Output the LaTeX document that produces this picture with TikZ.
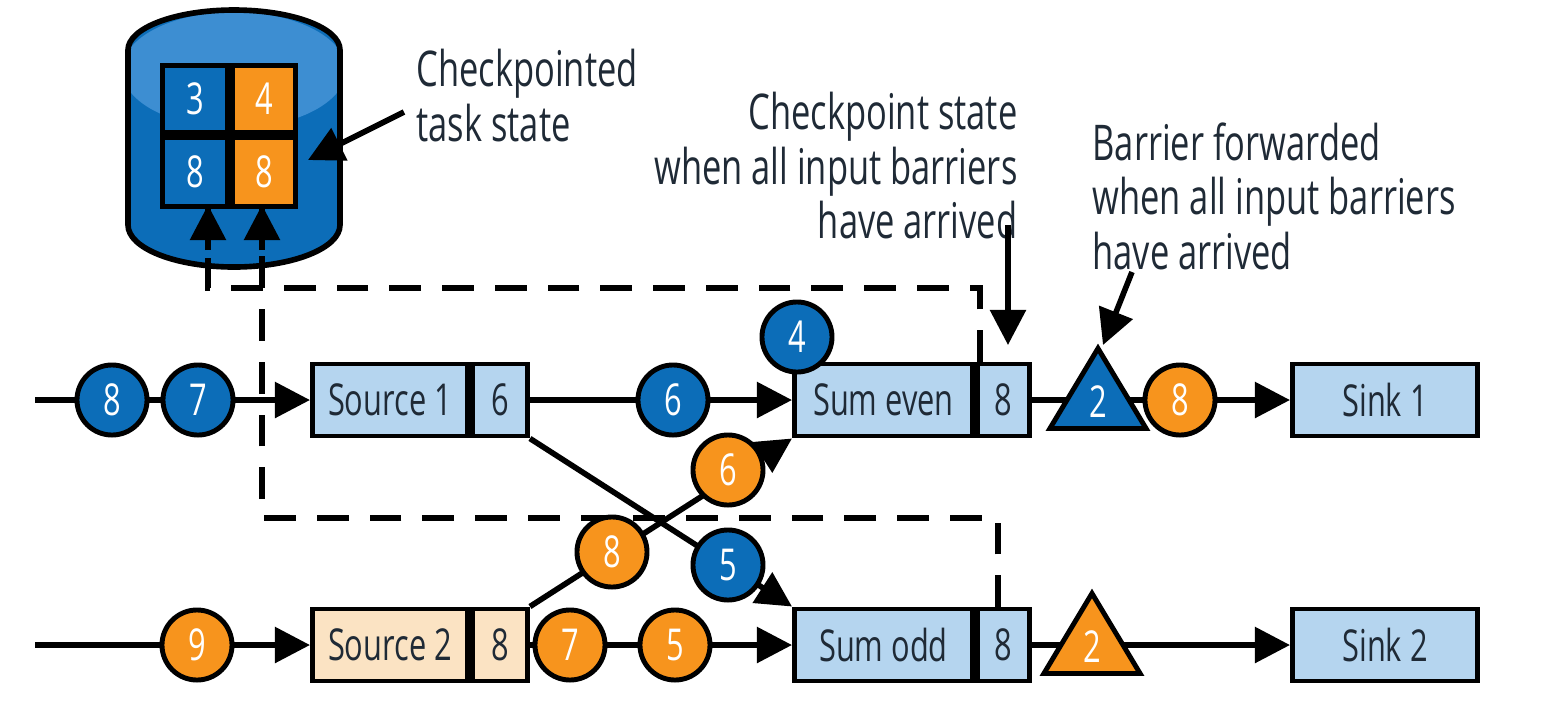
\documentclass[tikz,border=0pt]{standalone}
\usepackage{fontspec}
\setmainfont{Open Sans}[FakeStretch=0.7]
\usetikzlibrary{arrows.meta,shapes.geometric}
\definecolor{fblue}{HTML}{0C6DB8}
\definecolor{forange}{HTML}{F7941D}
\definecolor{lblue}{HTML}{B5D5EF}
\definecolor{peach}{HTML}{FBE3C3}
\definecolor{cyltop}{HTML}{3D8ED2}
\definecolor{txt}{HTML}{1F2A36}
\begin{document}
\begin{tikzpicture}[x=0.01cm,y=-0.01cm,line width=1.6pt,
  font=\fontsize{12.5}{15}\selectfont,
  arr/.style={-{Triangle[length=10pt,width=10pt]}},
  ball/.style={circle,draw=black,line width=1.4pt,minimum size=0.7cm,inner sep=0pt,text=white},
  bb/.style={ball,fill=fblue},
  ob/.style={ball,fill=forange},
  box/.style={draw=black,line width=1.4pt,fill=lblue,minimum height=0.72cm,inner sep=0pt,text=txt},
  cell/.style={draw=black,line width=1.4pt,inner sep=0pt,text=white},
  tri/.style={isosceles triangle,isosceles triangle apex angle=62,shape border rotate=90,draw=black,line width=1.4pt,minimum height=0.8cm,inner sep=1pt,text=white},
  lbl/.style={align=left,text=txt,font=\fontsize{14}{15.5}\selectfont},
  dsh/.style={dashed,dash pattern=on 9pt off 6pt}]
\useasboundingbox (0,0) rectangle (1550,714);
% cylinder
\path[fill=fblue] (128,50) -- (128,225) arc[start angle=180,end angle=0,x radius=106,y radius=42] -- (340,50) arc[start angle=0,end angle=-180,x radius=106,y radius=40] -- cycle;
\begin{scope}
\clip (128,50) -- (128,225) arc[start angle=180,end angle=0,x radius=106,y radius=42] -- (340,50) arc[start angle=0,end angle=-180,x radius=106,y radius=40] -- cycle;
\fill[cyltop] (234,70) ellipse[x radius=112,y radius=58];
\end{scope}
\draw[line width=1.6pt] (128,50) -- (128,225) arc[start angle=180,end angle=0,x radius=106,y radius=42] -- (340,50) arc[start angle=0,end angle=-180,x radius=106,y radius=40] -- cycle;
\node[cell,fill=fblue,minimum width=0.65cm,minimum height=0.67cm,anchor=south east] (c1) at (230,135) {3};
\node[cell,fill=forange,minimum width=0.63cm,minimum height=0.67cm,anchor=south west] (c2) at (230,135) {4};
\node[cell,fill=fblue,minimum width=0.65cm,minimum height=0.69cm,anchor=north east] (c3) at (230,135) {8};
\node[cell,fill=forange,minimum width=0.63cm,minimum height=0.69cm,anchor=north west] (c4) at (230,135) {8};
\coordinate (g1) at (208,205);
\coordinate (g2) at (262,205);
% boxes
\node[box,minimum width=1.55cm,fill=lblue,anchor=west] (s1) at (310,400) {Source 1};
\node[box,minimum width=0.55cm,anchor=west] (s1n) at (s1.east) {6};
\node[box,minimum width=1.55cm,fill=peach,anchor=west] (s2) at (310,645) {Source 2};
\node[box,minimum width=0.55cm,fill=peach,anchor=west] (s2n) at (s2.east) {8};
\node[box,minimum width=1.78cm,anchor=west] (se) at (792,400) {Sum even};
\node[box,minimum width=0.52cm,anchor=west] (sen) at (se.east) {8};
\node[box,minimum width=1.78cm,anchor=west] (so) at (792,645) {Sum odd};
\node[box,minimum width=0.52cm,anchor=west] (son) at (so.east) {8};
\node[box,minimum width=1.85cm,anchor=west] (k1) at (1290,400) {Sink 1};
\node[box,minimum width=1.85cm,anchor=west] (k2) at (1290,645) {Sink 2};
\coordinate (in1) at (35,400);
\coordinate (in2) at (35,645);
% dashed
\draw[dsh] (980,362) -- (980,288) -- (208,288) -- (g1);
\draw[dsh] (998,607) -- (998,518) -- (262,518) -- (g2);
\draw[arr] (208,250) -- (g1);
\draw[arr] (262,250) -- (g2);
% connectors
\draw[arr] (in1) -- (s1.west);
\draw[arr] (in2) -- (s2.west);
\draw[arr] (s1n.east) -- (se.west);
\draw[arr] (s2n.east) -- (so.west);
\draw[arr] (s1n.south east) -- (so.north west);
\draw[arr] (s2n.north east) -- (se.south west);
\draw[arr] (sen.east) -- (k1.west);
\draw[arr] (son.east) -- (k2.west);
\node[tri,fill=fblue] (t1) at (1098,402) {2};
\node[tri,fill=forange] (t2) at (1092,647) {2};
% balls
\node[bb] at (112,400) {8};
\node[bb] at (198,400) {7};
\node[bb] at (673,400) {6};
\node[bb] at (797,337) {4};
\node[ob] at (1180,400) {8};
\node[ob] at (197,645) {9};
\node[ob] at (570,645) {7};
\node[ob] at (675,645) {5};
\node[ob] at (612,552) {8};
\node[ob] at (728,470) {6};
\node[bb] at (728,565) {5};
% labels
\node[lbl,anchor=north west] (l1) at (402,35) {Checkpointed\\task state};
\draw[arr] (404,112) -- (308,160);
\node[lbl,anchor=north east,align=right] (l2) at (1032,78) {Checkpoint state\\when all input barriers\\have arrived};
\draw[arr] (1008,225) -- (1008,345);
\node[lbl,anchor=north west] (l3) at (1078,108) {Barrier forwarded\\when all input barriers\\have arrived};
\draw[arr] (1132,272) -- (1103,345);
\end{tikzpicture}
\end{document}
